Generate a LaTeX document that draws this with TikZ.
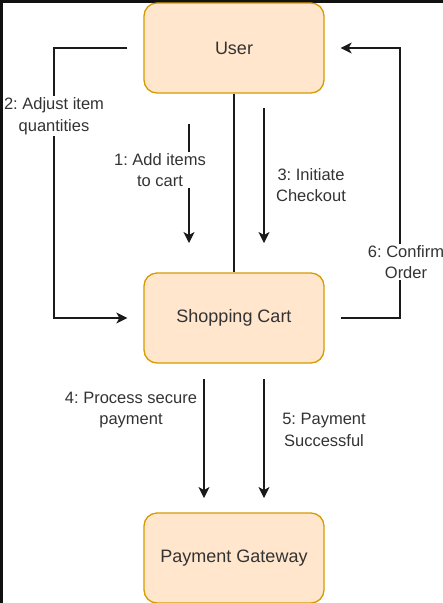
\documentclass[tikz,border=0pt]{standalone}
\usepackage{fontspec}
\setmainfont{Liberation Sans}
\usetikzlibrary{arrows.meta, positioning}
\definecolor{boxfill}{HTML}{FFE6CC}
\definecolor{boxline}{HTML}{D79B00}
\definecolor{txtgray}{HTML}{333333}
\definecolor{edgegray}{HTML}{1A1A1A}
\definecolor{frame}{HTML}{111111}
\frenchspacing

\begin{document}
\begin{tikzpicture}[x=1pt, y=-1pt,
    block/.style={draw=boxline, fill=boxfill, line width=1.3pt, rounded corners=13pt,
        minimum width=180pt, minimum height=90pt, text=txtgray,
        font=\fontsize{18}{22}\selectfont},
    msg/.style={text=txtgray, align=center, inner sep=1.5pt,
        font=\fontsize{16.5}{21.5}\selectfont},
    flow/.style={draw=edgegray, line width=1.2pt},
    tip/.style={flow, -{Stealth[length=11pt, width=11pt, inset=3pt]}}]
    \useasboundingbox (0,0) rectangle (443,603);
    \fill[white] (0,0) rectangle (443,603);
    \fill[frame] (0,0) rectangle (443,3);
    \fill[frame] (0,0) rectangle (3,603);

    % the three parts
    \node[block] (user) at (234,48) {User};
    \node[block] (cart) at (234,318) {Shopping Cart};
    \node[block] (gate) at (234,558) {Payment Gateway};

    \draw[flow] (user) -- (cart);

    % 2 and 6 go round the sides
    \coordinate (adjS) at ([xshift=-16pt]user.west);
    \coordinate (adjE) at ([xshift=-16pt]cart.west);
    \draw[tip] (adjS) -- (54,48) -- (54,318) -- (adjE);
    \node[msg, fill=white] (adj) at (54,116) {2: Adjust item\\quantities};

    \coordinate (confS) at ([xshift=16pt]cart.east);
    \coordinate (confE) at ([xshift=16pt]user.east);
    \draw[tip] (confS) -- (400,318) -- (400,48) -- (confE);
    \node[msg, fill=white] (conf) at (406,262) {6: Confirm\\Order};

    % free arrows between user and cart
    \coordinate (addS) at (189,124);
    \coordinate (addE) at (189,243);
    \draw[tip] (addS) -- (addE);
    \node[msg, fill=white] (add) at (160,170) {1: Add items\\to cart};

    \coordinate (chkS) at (264,108);
    \coordinate (chkE) at (264,243);
    \draw[tip] (chkS) -- (chkE);
    \node[msg] (chk) at (311,185) {3: Initiate\\Checkout};

    % free arrows between cart and gateway
    \coordinate (payS) at (204,379);
    \coordinate (payE) at (204,498);
    \draw[tip] (payS) -- (payE);
    \node[msg] (pay) at (131,410) {4: Process secure\\payment};

    \coordinate (okS) at (264,379);
    \coordinate (okE) at (264,498);
    \draw[tip] (okS) -- (okE);
    \node[msg] (ok) at (324,430) {5: Payment\\Successful};
\end{tikzpicture}
\end{document}
